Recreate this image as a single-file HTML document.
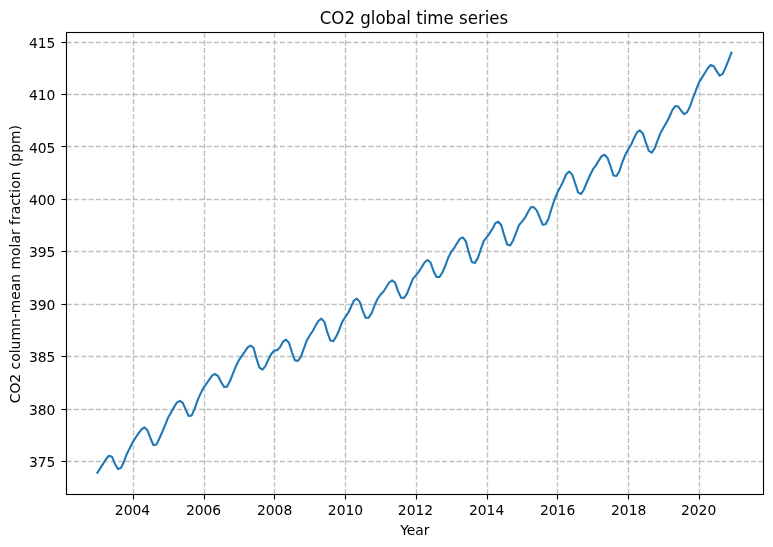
<!DOCTYPE html>
<html lang="en">
<head>
<meta charset="utf-8">
<title>CO2 global time series</title>
<style>
html,body{margin:0;padding:0;background:#fff;}
body{width:773px;height:547px;overflow:hidden;}
svg{display:block;}
text{font-family:"DejaVu Sans","Liberation Sans",sans-serif;font-size:13.889px;fill:#000;}
.grid line{stroke:#b0b0b0;stroke-opacity:0.8;stroke-width:1.389;stroke-dasharray:5.139 2.222;}
.tick line{stroke:#000;stroke-width:1.111;}
.title{font-size:16.667px;}
</style>
</head>
<body>
<svg width="773" height="547" viewBox="0 0 773 547">
<rect x="0" y="0" width="773" height="547" fill="#ffffff"/>
<g class="grid">
<line x1="133.5" y1="494.50" x2="133.5" y2="32.50"/>
<line x1="204.5" y1="494.50" x2="204.5" y2="32.50"/>
<line x1="274.5" y1="494.50" x2="274.5" y2="32.50"/>
<line x1="345.5" y1="494.50" x2="345.5" y2="32.50"/>
<line x1="416.5" y1="494.50" x2="416.5" y2="32.50"/>
<line x1="487.5" y1="494.50" x2="487.5" y2="32.50"/>
<line x1="557.5" y1="494.50" x2="557.5" y2="32.50"/>
<line x1="628.5" y1="494.50" x2="628.5" y2="32.50"/>
<line x1="699.5" y1="494.50" x2="699.5" y2="32.50"/>
<line x1="66.50" y1="461.5" x2="763.50" y2="461.5"/>
<line x1="66.50" y1="409.5" x2="763.50" y2="409.5"/>
<line x1="66.50" y1="356.5" x2="763.50" y2="356.5"/>
<line x1="66.50" y1="304.5" x2="763.50" y2="304.5"/>
<line x1="66.50" y1="251.5" x2="763.50" y2="251.5"/>
<line x1="66.50" y1="199.5" x2="763.50" y2="199.5"/>
<line x1="66.50" y1="146.5" x2="763.50" y2="146.5"/>
<line x1="66.50" y1="94.5" x2="763.50" y2="94.5"/>
<line x1="66.50" y1="42.5" x2="763.50" y2="42.5"/>
</g>
<g class="tick">
<line x1="133.5" y1="494.50" x2="133.5" y2="499.50"/>
<line x1="204.5" y1="494.50" x2="204.5" y2="499.50"/>
<line x1="274.5" y1="494.50" x2="274.5" y2="499.50"/>
<line x1="345.5" y1="494.50" x2="345.5" y2="499.50"/>
<line x1="416.5" y1="494.50" x2="416.5" y2="499.50"/>
<line x1="487.5" y1="494.50" x2="487.5" y2="499.50"/>
<line x1="557.5" y1="494.50" x2="557.5" y2="499.50"/>
<line x1="628.5" y1="494.50" x2="628.5" y2="499.50"/>
<line x1="699.5" y1="494.50" x2="699.5" y2="499.50"/>
<line x1="61.50" y1="461.5" x2="66.50" y2="461.5"/>
<line x1="61.50" y1="409.5" x2="66.50" y2="409.5"/>
<line x1="61.50" y1="356.5" x2="66.50" y2="356.5"/>
<line x1="61.50" y1="304.5" x2="66.50" y2="304.5"/>
<line x1="61.50" y1="251.5" x2="66.50" y2="251.5"/>
<line x1="61.50" y1="199.5" x2="66.50" y2="199.5"/>
<line x1="61.50" y1="146.5" x2="66.50" y2="146.5"/>
<line x1="61.50" y1="94.5" x2="66.50" y2="94.5"/>
<line x1="61.50" y1="42.5" x2="66.50" y2="42.5"/>
</g>
<path d="M97.36 472.72 L100.36 468.17 L103.07 463.83 L106.08 459.05 L108.98 455.80 L111.99 456.71 L114.89 463.66 L117.90 469.00 L120.90 467.95 L123.81 462.20 L126.81 453.90 L129.72 448.30 L132.72 442.19 L135.73 437.27 L138.54 433.40 L141.54 429.40 L144.45 427.40 L147.45 430.28 L150.36 437.99 L153.36 445.00 L156.37 444.62 L159.27 438.72 L162.28 431.83 L165.18 425.03 L168.19 417.40 L171.19 412.18 L173.91 407.37 L176.91 402.56 L179.82 400.78 L182.82 402.78 L185.73 409.68 L188.73 416.06 L191.73 415.45 L194.64 408.91 L197.64 400.10 L200.55 393.60 L203.56 387.70 L206.56 383.63 L209.27 379.54 L212.28 375.39 L215.18 374.06 L218.19 376.17 L221.09 381.99 L224.10 386.92 L227.10 386.59 L230.01 381.10 L233.01 373.40 L235.92 366.20 L238.92 360.10 L241.93 355.80 L244.64 351.81 L247.64 347.40 L250.55 345.67 L253.55 347.77 L256.46 358.40 L259.47 367.60 L262.47 369.57 L265.38 366.10 L268.38 359.54 L271.29 354.01 L274.29 350.55 L277.29 350.11 L280.10 347.12 L283.11 341.57 L286.01 339.63 L289.02 342.90 L291.93 352.28 L294.93 360.35 L297.93 360.99 L300.84 356.97 L303.84 348.73 L306.75 340.54 L309.75 335.40 L312.76 331.03 L315.47 325.86 L318.48 320.80 L321.38 318.61 L324.39 321.86 L327.29 332.19 L330.30 340.43 L333.30 341.18 L336.21 336.60 L339.21 329.95 L342.12 322.10 L345.12 317.20 L348.13 313.00 L350.84 307.20 L353.84 300.60 L356.75 298.66 L359.75 301.85 L362.66 310.59 L365.66 317.81 L368.67 317.81 L371.58 313.27 L374.58 305.26 L377.49 299.03 L380.49 294.70 L383.49 291.50 L386.21 287.30 L389.21 282.50 L392.12 280.40 L395.12 282.57 L398.03 291.16 L401.03 297.62 L404.04 297.94 L406.94 293.80 L409.95 286.10 L412.85 278.90 L415.86 275.40 L418.86 271.60 L421.67 267.30 L424.67 262.20 L427.58 259.95 L430.59 262.55 L433.49 271.00 L436.50 277.02 L439.50 276.87 L442.41 272.48 L445.41 265.50 L448.32 257.50 L451.32 251.73 L454.33 247.76 L457.04 243.33 L460.04 238.61 L462.95 237.45 L465.95 241.63 L468.86 252.66 L471.86 262.03 L474.87 262.89 L477.77 258.13 L480.78 249.40 L483.68 241.20 L486.69 237.30 L489.69 233.15 L492.41 228.87 L495.41 223.09 L498.32 221.70 L501.32 225.21 L504.23 235.44 L507.23 244.56 L510.23 245.44 L513.14 240.42 L516.15 232.60 L519.05 224.94 L522.06 221.60 L525.06 217.65 L527.77 212.60 L530.78 207.33 L533.68 207.15 L536.69 210.37 L539.59 217.02 L542.60 224.60 L545.60 224.21 L548.51 218.66 L551.51 208.80 L554.42 200.00 L557.42 192.53 L560.43 186.87 L563.24 181.24 L566.24 174.22 L569.15 171.55 L572.15 174.45 L575.06 182.99 L578.06 192.39 L581.07 194.03 L583.97 189.47 L586.98 182.00 L589.88 175.50 L592.89 169.48 L595.89 165.49 L598.60 160.82 L601.61 156.10 L604.52 154.82 L607.52 157.91 L610.43 166.03 L613.43 175.40 L616.43 175.97 L619.34 171.25 L622.34 162.20 L625.25 155.00 L628.26 149.30 L631.26 144.50 L633.97 138.20 L636.98 132.37 L639.88 130.43 L642.89 133.44 L645.79 142.38 L648.80 150.84 L651.80 152.60 L654.71 148.12 L657.71 140.20 L660.62 132.80 L663.62 127.46 L666.63 122.22 L669.34 116.98 L672.34 110.10 L675.25 106.09 L678.25 106.58 L681.16 110.75 L684.16 114.25 L687.17 112.10 L690.08 106.20 L693.08 97.74 L695.99 90.06 L698.99 82.50 L701.99 77.60 L704.80 73.00 L707.81 68.20 L710.71 65.00 L713.72 66.20 L716.63 71.14 L719.63 75.60 L722.63 73.92 L725.54 67.62 L728.54 60.10 L731.45 52.72" fill="none" stroke="#1f77b4" stroke-width="2.083" stroke-linejoin="round" stroke-linecap="square"/>
<rect x="66.5" y="32.5" width="697.0" height="462.0" fill="none" stroke="#000" stroke-width="1.111" stroke-linejoin="miter"/>
<g text-anchor="middle">
<text x="132.52" y="515.35">2004</text>
<text x="203.56" y="515.35">2006</text>
<text x="274.59" y="515.35">2008</text>
<text x="345.47" y="515.35">2010</text>
<text x="415.51" y="515.35">2012</text>
<text x="486.59" y="515.35">2014</text>
<text x="557.57" y="515.35">2016</text>
<text x="628.66" y="515.35">2018</text>
<text x="698.59" y="515.35">2020</text>
</g>
<g text-anchor="end">
<text x="55.45" y="467.46">375</text>
<text x="55.45" y="415.01">380</text>
<text x="55.45" y="361.56">385</text>
<text x="55.45" y="310.11">390</text>
<text x="55.45" y="256.66">395</text>
<text x="55.45" y="205.21">400</text>
<text x="55.45" y="152.75">405</text>
<text x="55.45" y="100.30">410</text>
<text x="55.45" y="47.85">415</text>
</g>
<text x="414.88" y="535.35" text-anchor="middle">Year</text>
<text transform="translate(19.60 264.20) rotate(-90)" text-anchor="middle" style="letter-spacing:0.01px">CO2 column-mean molar fraction (ppm)</text>
<text class="title" transform="translate(414.00 24.00) scale(1 1.085)" text-anchor="middle" style="letter-spacing:-0.02px">CO2 global time series</text>
</svg>
</body>
</html>
